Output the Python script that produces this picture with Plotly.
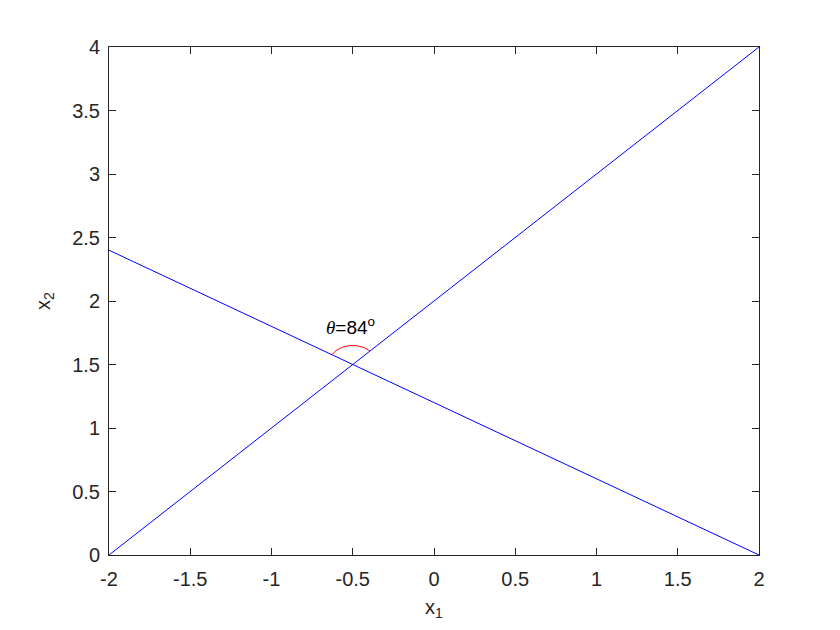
import numpy as np
import plotly.graph_objects as go

# Datos de las dos rectas
x_recta1 = [-2, 2]
y_recta1 = [0, 4]
x_recta2 = [-2, 2]
y_recta2 = [2.4, 0]

# Interseccion y arco del angulo
x_cruce = -0.5
y_cruce = 1.5
radio_arco = 0.15
etiqueta = "<span style='font-family:Liberation Serif'><i>θ</i></span>=84<sup>o</sup>"

x_ticks = [-2, -1.5, -1, -0.5, 0, 0.5, 1, 1.5, 2]
y_ticks = [0, 0.5, 1, 1.5, 2, 2.5, 3, 3.5, 4]

# angulos de cada recta (en coordenadas de datos)
ang1 = np.arctan2(y_recta1[1] - y_recta1[0], x_recta1[1] - x_recta1[0])
ang2 = np.arctan2(y_recta2[0] - y_recta2[1], x_recta2[0] - x_recta2[1])
t = np.linspace(ang1, ang2, 60)
x_arco = x_cruce + radio_arco * np.cos(t)
y_arco = y_cruce + radio_arco * np.sin(t)

fig = go.Figure()
fig.add_trace(go.Scatter(x=x_recta1, y=y_recta1, mode="lines",
                         line=dict(color="#0000FF", width=1)))
fig.add_trace(go.Scatter(x=x_recta2, y=y_recta2, mode="lines",
                         line=dict(color="#0000FF", width=1)))
fig.add_trace(go.Scatter(x=x_arco, y=y_arco, mode="lines",
                         line=dict(color="#FF0000", width=1)))

fig.add_annotation(x=-0.675, y=1.8, text=etiqueta, showarrow=False,
                   xanchor="left", yanchor="middle",
                   font=dict(family="Arial, Liberation Sans", size=19, color="#000000"))

fuente = "Arial, Liberation Sans"
ejes = dict(
    showgrid=False, zeroline=False,
    showline=True, linecolor="#262626", linewidth=1, mirror="ticks",
    ticks="inside", ticklen=7, tickcolor="#262626", tickwidth=1,
    tickfont=dict(family=fuente, size=20, color="#262626"),
)

# el body de la pagina tiene 8px de margen, se compensa aqui
fig.update_layout(
    width=840, height=630,
    paper_bgcolor="white", plot_bgcolor="white",
    showlegend=False,
    margin=dict(l=101, r=89, t=39, b=83, autoexpand=False),
    xaxis=dict(range=[-2, 2], tickvals=x_ticks,
               ticktext=[f"{v:g}" for v in x_ticks],
               ticklabelstandoff=6,
               title=dict(text="x<sub>1</sub>", standoff=10,
                          font=dict(family=fuente, size=20, color="#262626")),
               **ejes),
    yaxis=dict(range=[0, 4], tickvals=y_ticks,
               ticktext=[f"{v:g}" for v in y_ticks],
               ticklabelstandoff=4,
               title=dict(text="x<sub>2</sub>", standoff=16,
                          font=dict(family=fuente, size=20, color="#262626")),
               **ejes),
)

fig.write_html("out.html")
